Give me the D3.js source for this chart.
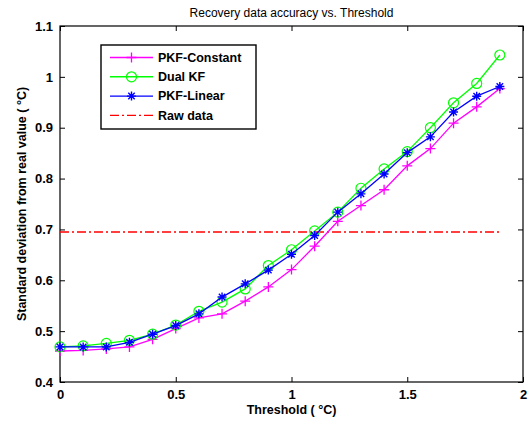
<!DOCTYPE html>
<html>
<head>
<meta charset="utf-8">
<script src="https://cdn.jsdelivr.net/npm/d3@7"></script>
<style>
  html, body { margin: 0; padding: 0; background: #fff; }
  svg { display: block; font-family: "Liberation Sans", Arial, sans-serif; }
</style>
</head>
<body>
<svg id="chart" width="530" height="424"></svg>
<script>
// Threshold values (°C)
const thresholds = [0, 0.1, 0.2, 0.3, 0.4, 0.5, 0.6, 0.7, 0.8, 0.9, 1.0, 1.1, 1.2, 1.3, 1.4, 1.5, 1.6, 1.7, 1.8, 1.9];
// Standard deviation from real value for each method
const pkfConstant = [0.461, 0.462, 0.465, 0.469, 0.484, 0.505, 0.526, 0.534, 0.559, 0.587, 0.621, 0.667, 0.716, 0.747, 0.778, 0.825, 0.859, 0.909, 0.941, 0.977];
const dualKF      = [0.469, 0.471, 0.476, 0.482, 0.494, 0.512, 0.539, 0.557, 0.583, 0.629, 0.660, 0.697, 0.734, 0.781, 0.819, 0.853, 0.900, 0.949, 0.987, 1.043];
const pkfLinear   = [0.469, 0.469, 0.469, 0.478, 0.494, 0.511, 0.534, 0.567, 0.593, 0.620, 0.651, 0.688, 0.734, 0.770, 0.809, 0.851, 0.882, 0.931, 0.962, 0.981];
const rawData = 0.695;
const xTicks = [0, 0.5, 1, 1.5, 2];
const yTicks = [0.4, 0.5, 0.6, 0.7, 0.8, 0.9, 1.0, 1.1];
const xTickLabels = ["0", "0.5", "1", "1.5", "2"];
const yTickLabels = ["0.4", "0.5", "0.6", "0.7", "0.8", "0.9", "1", "1.1"];

const series = [
  { name: "PKF-Constant", values: pkfConstant, color: "rgb(255,0,255)", marker: "plus" },
  { name: "Dual KF", values: dualKF, color: "rgb(0,255,0)", marker: "circle" },
  { name: "PKF-Linear", values: pkfLinear, color: "rgb(0,0,255)", marker: "star" }
];

const svg = d3.select("#chart");
const L = 60, R = 523, T = 26, B = 382;
const x = d3.scaleLinear().domain([0, 2]).range([L, R]);
const y = d3.scaleLinear().domain([0.4, 1.1]).range([B, T]);

// Axes with inward ticks on all four sides
const tickLen = 5;
svg.append("g").attr("transform", `translate(0,${B})`)
  .call(d3.axisBottom(x).tickValues(xTicks).tickSizeInner(-tickLen).tickSizeOuter(0)
    .tickFormat((d, i) => xTickLabels[i]).tickPadding(8))
  .call(g => g.select(".domain").remove());
svg.append("g").attr("transform", `translate(0,${T})`)
  .call(d3.axisTop(x).tickValues(xTicks).tickSizeInner(-tickLen).tickSizeOuter(0).tickFormat(""))
  .call(g => g.select(".domain").remove());
svg.append("g").attr("transform", `translate(${L},0)`)
  .call(d3.axisLeft(y).tickValues(yTicks).tickSizeInner(-tickLen).tickSizeOuter(0)
    .tickFormat((d, i) => yTickLabels[i]).tickPadding(7))
  .call(g => g.select(".domain").remove());
svg.append("g").attr("transform", `translate(${R},0)`)
  .call(d3.axisRight(y).tickValues(yTicks).tickSizeInner(-tickLen).tickSizeOuter(0).tickFormat(""))
  .call(g => g.select(".domain").remove());

svg.selectAll(".tick line").attr("stroke", "#000").attr("stroke-width", 1);
svg.selectAll(".tick text").attr("font-size", 13).attr("font-weight", "bold")
  .attr("font-family", "Liberation Sans, Arial, sans-serif").attr("fill", "#000");

// Plot box
svg.append("rect").attr("x", L).attr("y", T).attr("width", R - L).attr("height", B - T)
  .attr("fill", "none").attr("stroke", "#000").attr("stroke-width", 1.2);

// Raw data reference line
svg.append("line")
  .attr("x1", x(thresholds[0])).attr("x2", x(thresholds[thresholds.length - 1]))
  .attr("y1", y(rawData)).attr("y2", y(rawData))
  .style("stroke", "rgb(255,0,0)").style("stroke-width", "1.5px")
  .style("stroke-dasharray", "9,3,2,3");

function drawMarker(g, type, color, cx, cy) {
  if (type === "plus") {
    const s = 5;
    g.append("path").attr("d", `M${cx - s},${cy}H${cx + s}M${cx},${cy - s}V${cy + s}`)
      .style("stroke", color).style("stroke-width", "1.3px").style("fill", "none");
  } else if (type === "circle") {
    g.append("circle").attr("cx", cx).attr("cy", cy).attr("r", 5)
      .style("stroke", color).style("stroke-width", "1.2px").style("fill", "none");
  } else if (type === "star") {
    const s = 4.5, d = s * 0.72;
    g.append("path")
      .attr("d", `M${cx - s},${cy}H${cx + s}M${cx},${cy - s}V${cy + s}M${cx - d},${cy - d}L${cx + d},${cy + d}M${cx - d},${cy + d}L${cx + d},${cy - d}`)
      .style("stroke", color).style("stroke-width", "1.4px").style("fill", "none");
  }
}

const line = d3.line().x((d, i) => x(thresholds[i])).y(d => y(d));
series.forEach(s => {
  const g = svg.append("g");
  g.append("path").datum(s.values).attr("d", line)
    .style("fill", "none").style("stroke", s.color).style("stroke-width", "1.3px");
  s.values.forEach((v, i) => drawMarker(g, s.marker, s.color, x(thresholds[i]), y(v)));
});

// Legend
const lg = svg.append("g");
lg.append("rect").attr("x", 101).attr("y", 45).attr("width", 155).attr("height", 84)
  .style("fill", "#fff").style("stroke", "#000").style("stroke-width", "1.4px");
const legendItems = series.concat([{ name: "Raw data", color: "rgb(255,0,0)", marker: null, dash: "9,3,2,3" }]);
legendItems.forEach((s, i) => {
  const ly = 57.5 + i * 19.3;
  const ln = lg.append("line").attr("x1", 110).attr("x2", 153).attr("y1", ly).attr("y2", ly)
    .style("stroke", s.color).style("stroke-width", "1.4px");
  if (s.dash) ln.style("stroke-dasharray", s.dash);
  if (s.marker) drawMarker(lg, s.marker, s.color, 131.5, ly);
  lg.append("text").attr("x", 158).attr("y", ly).attr("dy", "0.35em")
    .attr("font-size", 12.5).attr("font-weight", "bold").text(s.name);
});

// Title and axis labels
svg.append("text").attr("x", (L + R) / 2).attr("y", 17).attr("text-anchor", "middle")
  .attr("font-size", 12).text("Recovery data accuracy vs. Threshold");
svg.append("text").attr("x", (L + R) / 2).attr("y", 414).attr("text-anchor", "middle")
  .attr("font-size", 12.5).attr("font-weight", "bold").text("Threshold ( \u00B0C)");
svg.append("text").attr("transform", `translate(26,${(T + B) / 2}) rotate(-90)`)
  .attr("text-anchor", "middle").attr("font-size", 12.5).attr("font-weight", "bold")
  .text("Standard deviation from real value ( \u00B0C)");
</script>
</body>
</html>
